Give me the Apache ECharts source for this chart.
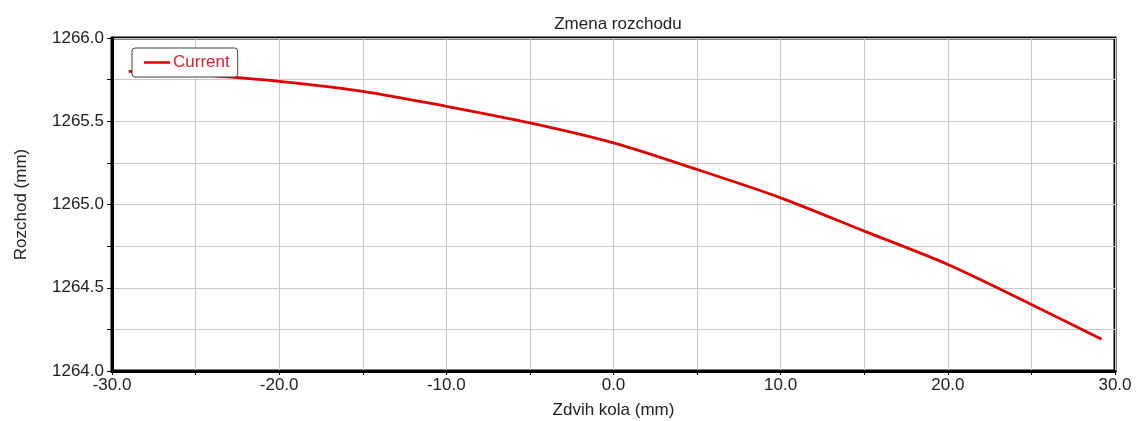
<!DOCTYPE html>
<html>
<head>
<meta charset="utf-8">
<script src="https://cdn.jsdelivr.net/npm/echarts@6/dist/echarts.min.js"></script>
<style>
  html, body { margin: 0; padding: 0; background: #fff; }
  #chart { width: 1136px; height: 421px; }
</style>
</head>
<body>
<div id="chart"></div>
<script>
// wheel travel (mm) and track width (mm)
const travel = [-29, -25, -20, -15, -10, -5, 0, 5, 10, 15, 20, 25, 29.2]
const track = [1265.80, 1265.78, 1265.74, 1265.68, 1265.59, 1265.49, 1265.37, 1265.21, 1265.04, 1264.84, 1264.64, 1264.40, 1264.19]
const seriesName = 'Current'

const font = 'Liberation Sans, Arial, sans-serif'
const textColor = '#222'

const chart = echarts.init(document.getElementById('chart'))

chart.setOption({
  animation: false,
  textStyle: { fontFamily: font },
  title: {
    text: 'Zmena rozchodu',
    left: 613,
    textAlign: 'center',
    top: 11,
    textStyle: { fontFamily: font, fontSize: 17, fontWeight: 'normal', color: textColor }
  },
  legend: {
    left: 132,
    top: 48,
    padding: [6, 8, 6, 12],
    borderColor: '#444',
    borderWidth: 1,
    borderRadius: 3,
    backgroundColor: '#fff',
    icon: 'rect',
    itemWidth: 26,
    itemHeight: 2.5,
    itemGap: 4,
    textStyle: { fontFamily: font, fontSize: 17, color: '#e0202a', padding: [0, 0, 0, -2] },
    data: [seriesName]
  },
  grid: {
    left: 112,
    right: 21,
    top: 38,
    bottom: 50,
    outerBoundsMode: 'none',
    show: true,
    borderColor: '#000',
    borderWidth: 3
  },
  xAxis: {
    type: 'value',
    min: -30,
    max: 30,
    interval: 5,
    name: 'Zdvih kola (mm)',
    nameLocation: 'middle',
    nameGap: 31,
    nameTextStyle: { fontFamily: font, fontSize: 17, color: textColor },
    axisLine: { show: true, onZero: false, lineStyle: { color: '#000', width: 3 } },
    axisTick: { show: true, length: 4, lineStyle: { color: '#000', width: 1 } },
    axisLabel: {
      margin: 6,
      fontFamily: font,
      fontSize: 17,
      color: textColor,
      formatter: (v) => (v % 10 === 0 ? v.toFixed(1) : '')
    },
    splitLine: { show: true, lineStyle: { color: '#c8c8c8', width: 1 } }
  },
  yAxis: {
    type: 'value',
    min: 1264,
    max: 1266,
    interval: 0.25,
    name: 'Rozchod (mm)',
    nameLocation: 'middle',
    nameRotate: 90,
    nameGap: 82,
    nameTextStyle: { fontFamily: font, fontSize: 17, color: textColor },
    axisLine: { show: true, onZero: false, lineStyle: { color: '#000', width: 3 } },
    axisTick: { show: true, length: 5, lineStyle: { color: '#000', width: 1 } },
    axisLabel: {
      margin: 8,
      fontFamily: font,
      fontSize: 17,
      color: textColor,
      formatter: (v) => (Math.abs(v * 2 - Math.round(v * 2)) < 1e-6 ? v.toFixed(1) : '')
    },
    splitLine: { show: true, lineStyle: { color: '#c8c8c8', width: 1 } }
  },
  series: [
    {
      name: seriesName,
      type: 'line',
      data: travel.map((x, i) => [x, track[i]]),
      smooth: 0.3,
      symbol: 'none',
      lineStyle: { color: '#e00000', width: 2.8 },
      itemStyle: { color: '#e00000' }
    }
  ]
})
</script>
</body>
</html>
